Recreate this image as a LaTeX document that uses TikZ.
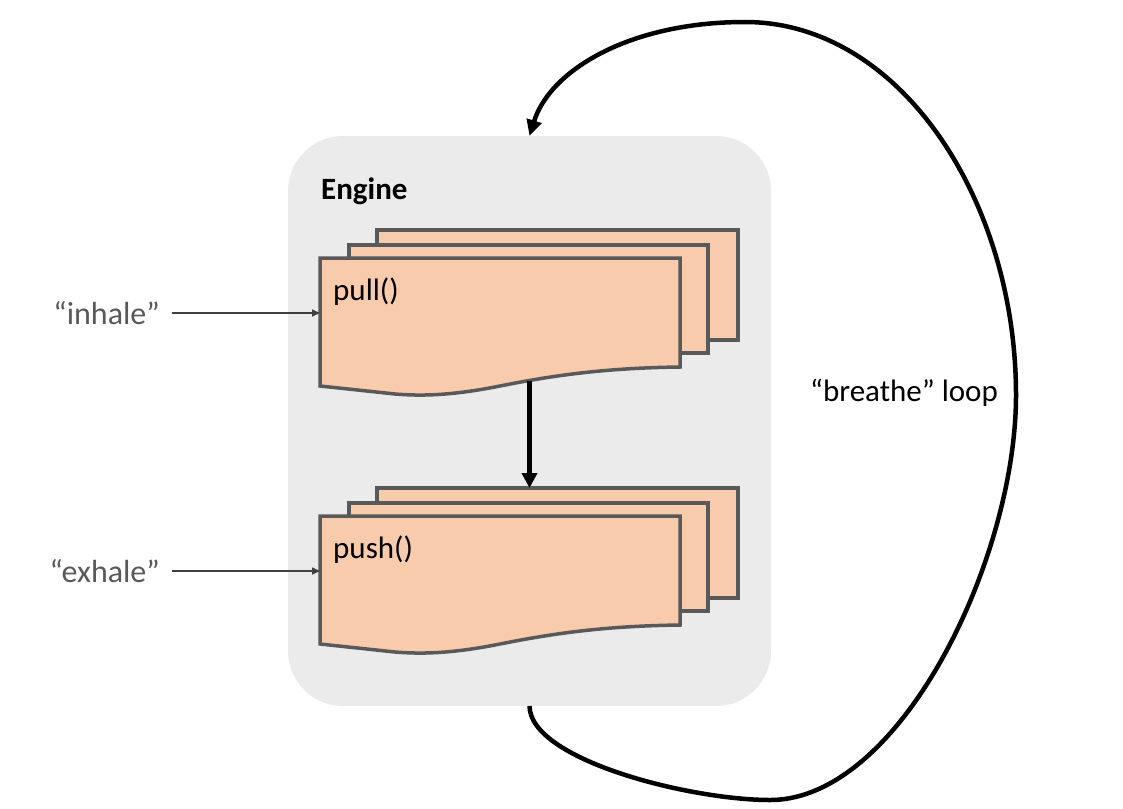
\documentclass[tikz,border=0pt]{standalone}
\usepackage{fontspec}
\setmainfont{Carlito}
\usetikzlibrary{arrows.meta}
\usetikzlibrary{positioning}

\definecolor{enginegray}{HTML}{EBEBEB}
\definecolor{sheetfill}{HTML}{F8CBAD}
\definecolor{sheetline}{HTML}{595959}
\definecolor{quotegray}{HTML}{595959}
\definecolor{thingray}{HTML}{404040}

% one stack of pages: #1 name, #2 vertical offset, #3 text
\newcommand{\docstack}[3]{%
  \begin{scope}[shift={(0,#2)}]
    \node[sheetbox, minimum width=361pt, minimum height=110pt] (#1back) at (557.5,285) {};
    \node[sheetbox, minimum width=359pt, minimum height=108pt] (#1mid) at (528.5,299) {};
    \draw[sheet] (320,258) -- (680,258) -- (680,367)
      .. controls (610,368) and (560,374) .. (500,386)
      .. controls (450,396) and (420,396) .. (395,394) -- (320,386) -- cycle;
    \node[inner sep=0pt, outer sep=0pt, minimum width=360pt, minimum height=128pt] (#1) at (500,322) {};
    \node[txt, anchor=base west] (#1text) at (333,300) {#3};
    \coordinate (#1wave) at (529.5,381);
  \end{scope}}

\begin{document}
\begin{tikzpicture}[x=1pt, y=-1pt,
  sheet/.style={draw=sheetline, fill=sheetfill, line width=3.5pt},
  sheetbox/.style={sheet, rectangle, inner sep=0pt, outer sep=0pt},
  txt/.style={font=\fontsize{31}{37}\selectfont, inner sep=0pt},
  quote/.style={txt, text=quotegray, font=\fontsize{32}{38}\selectfont},
  thinarrow/.style={draw=thingray, line width=1.6pt, -{Triangle[length=8pt,width=7pt]}},
  bigarrow/.style={line width=5.5pt, -{Triangle[length=15pt,width=15pt]}},
  looparrow/.style={line width=4.5pt, -{Triangle[length=16pt,width=15pt]}}]

  \useasboundingbox (0,0) rectangle (1123,808);

  %% engine box
  \node[fill=enginegray, rounded corners=55pt, minimum width=483pt, minimum height=570pt,
        inner sep=0pt, outer sep=0pt] (engine) at (529.5,421) {};
  \node[txt, anchor=base west, font=\fontsize{31}{37}\selectfont\bfseries] (enginetext) at (321,199) {Engine};

  %% page stacks
  \docstack{pull}{0}{pull()}
  \docstack{push}{258}{push()}

  \draw[bigarrow] (pullwave) -- (pullwave |- pushback.north);

  %% inputs
  \node[quote, anchor=east, inner xsep=12pt] (inhale) at (172,313) {“inhale”};
  \node[quote, anchor=east, inner xsep=12pt] (exhale) at (172,571) {“exhale”};
  \draw[thinarrow] (inhale.east) -- (inhale.east -| pull.west);
  \draw[thinarrow] (exhale.east) -- (exhale.east -| push.west);

  %% the loop
  \draw[looparrow] (engine.south) .. controls (530,760) and (690,800) .. (770,800)
    .. controls (900,800) and (1016,560) .. (1016,395)
    .. controls (1016,200) and (900,22) .. (745,22)
    .. controls (630,22) and (550,70) .. (engine.north);
  \node[txt, anchor=base] (breathe) at (904,401) {“breathe” loop};

\end{tikzpicture}
\end{document}
